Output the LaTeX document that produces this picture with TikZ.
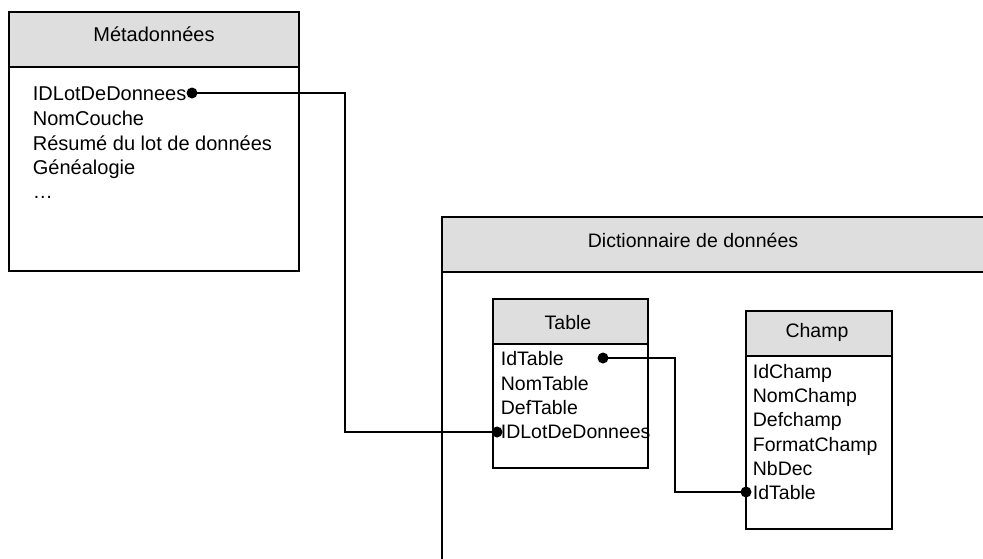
\documentclass[tikz,border=0pt]{standalone}
\usepackage{fontspec}
\setmainfont{Liberation Sans}
\begin{document}
\begin{tikzpicture}[x=1pt,y=-1pt,
  line width=1.8pt,
  boxline/.style={draw=black, line width=1.8pt},
  title/.style={inner sep=0pt, font=\fontsize{20}{24}\selectfont},
  field/.style={anchor=west, inner sep=0pt, text height=14.3pt, text depth=0pt, font=\fontsize{19.5}{24}\selectfont},
  metafield/.style={field, font=\fontsize{20}{24}\selectfont},
  keydot/.style={circle, fill=black, inner sep=0pt, minimum size=11pt},
  link/.style={draw=black, line width=1.8pt}
]
\definecolor{headgray}{RGB}{222,222,222}
\useasboundingbox (0,0) rectangle (983,558);
\clip (0,0) rectangle (983,558);

% --- Métadonnées ---
\fill[headgray] (9,12) rectangle (299,67);
\draw[boxline] (9,12) rectangle (299,271);
\draw[boxline] (9,67) -- (299,67);
\node[title] (metatitle) at (154,34) {Métadonnées};
\node[metafield] (m1) at (32,93) {IDLotDeDonnees};
\node[metafield] (m2) at (32,118) {NomCouche};
\node[metafield] (m3) at (32,143) {Résumé du lot de données};
\node[metafield] (m4) at (32,167) {Généalogie};
\node[metafield] (m5) at (32,191) {…};

% --- Dictionnaire de données (extends past the page edge) ---
\fill[headgray] (442,217) rectangle (1000,272);
\draw[boxline] (442,600) -- (442,217) -- (1000,217);
\draw[boxline] (442,272) -- (1000,272);
\node[title, font=\fontsize{19.5}{24}\selectfont] (dicttitle) at (693,240) {Dictionnaire de données};

% --- Table ---
\fill[headgray] (493,299) rectangle (648,344);
\draw[boxline] (493,299) rectangle (648,468);
\draw[boxline] (493,344) -- (648,344);
\node[title, font=\fontsize{19.5}{24}\selectfont] (tabletitle) at (568,323) {Table};
\node[field] (t1) at (500,358) {IdTable};
\node[field] (t2) at (500,383) {NomTable};
\node[field] (t3) at (500,407) {DefTable};
\node[field] (t4) at (500,431) {IDLotDeDonnees};

% --- Champ ---
\fill[headgray] (746,311) rectangle (892,356);
\draw[boxline] (746,311) rectangle (892,529);
\draw[boxline] (746,356) -- (892,356);
\node[title, font=\fontsize{19.5}{24}\selectfont] (champtitle) at (817,332) {Champ};
\node[field] (c1) at (752,371) {IdChamp};
\node[field] (c2) at (752,395) {NomChamp};
\node[field] (c3) at (752,419) {Defchamp};
\node[field] (c4) at (752,444) {FormatChamp};
\node[field] (c5) at (752,468) {NbDec};
\node[field] (c6) at (752,492) {IdTable};

% --- key dots ---
\node[keydot] (dm1) at (192,93) {};
\node[keydot] (dt4) at (497,432) {};
\node[keydot] (dt1) at (603,358) {};
\node[keydot] (dc6) at (746,492) {};

% --- links ---
\coordinate (bendA) at (345,93);
\coordinate (bendB) at (675,358);
\draw[link] (dm1.center) -- (bendA) |- (dt4.center);
\draw[link] (dt1.center) -- (bendB) |- (dc6.center);
\end{tikzpicture}
\end{document}
